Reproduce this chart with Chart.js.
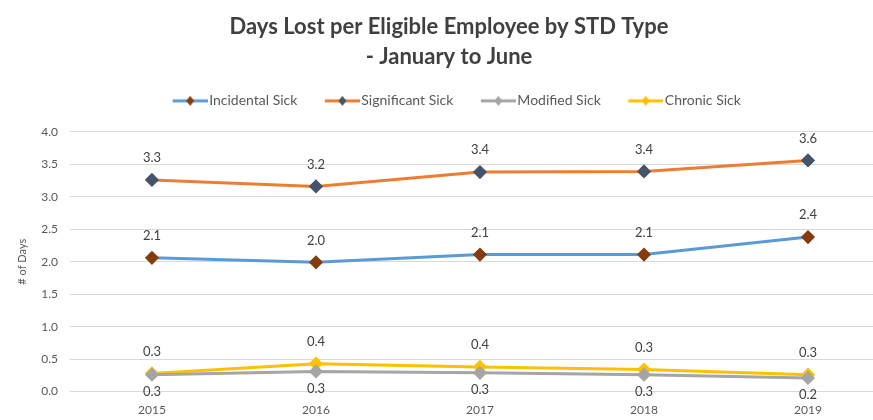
<!DOCTYPE html>
<html>
<head>
<meta charset="utf-8">
<script src="https://cdn.jsdelivr.net/npm/chart.js@4.4.1/dist/chart.umd.min.js"></script>
<style>
    html, body { margin: 0; padding: 0; background: #fff; overflow: hidden; width: 873px; height: 420px; }
    #frame { width: 873px; height: 420px; overflow: hidden; position: relative; }
    canvas { display: block; position: absolute; left: 0; top: 0; }
</style>
</head>
<body>
<!-- canvas is a bit larger than the window, the original is cropped on the right -->
<div id="frame"><canvas id="stdChart" width="898" height="431"></canvas></div>
<script>
const years = ['2015', '2016', '2017', '2018', '2019'];
const incidentalSick = [2.06, 1.99, 2.11, 2.11, 2.38];
const significantSick = [3.26, 3.16, 3.38, 3.39, 3.56];
const modifiedSick = [0.26, 0.31, 0.29, 0.26, 0.21];
const chronicSick = [0.28, 0.43, 0.38, 0.34, 0.26];
const yTicks = [0, 0.5, 1, 1.5, 2, 2.5, 3, 3.5, 4];

const textGray = '#595959';

// legend swatch: line with a diamond, transparent space on the left
function legendIcon(lineColor, markColor) {
    const c = document.createElement('canvas');
    c.width = 56;
    c.height = 12;
    const ctx = c.getContext('2d');
    ctx.strokeStyle = lineColor;
    ctx.lineWidth = 3;
    ctx.beginPath();
    ctx.moveTo(21, 6);
    ctx.lineTo(56, 6);
    ctx.stroke();
    ctx.fillStyle = markColor;
    ctx.beginPath();
    ctx.moveTo(38.5, 1);
    ctx.lineTo(42.5, 6);
    ctx.lineTo(38.5, 11);
    ctx.lineTo(34.5, 6);
    ctx.closePath();
    ctx.fill();
    return c;
}

function makeSeries(label, data, lineColor, markColor, below) {
    return {
        label: label,
        data: data,
        borderColor: lineColor,
        backgroundColor: markColor,
        pointBackgroundColor: markColor,
        pointBorderColor: markColor,
        pointStyle: 'rectRot',
        pointRadius: 5,
        pointHoverRadius: 5,
        borderWidth: 3,
        tension: 0,
        labelBelow: below,
        icon: legendIcon(lineColor, markColor)
    };
}

// extra gap under the legend
const legendGap = {
    id: 'legendGap',
    afterInit(chart) {
        const legend = chart.legend;
        const fit = legend.fit;
        legend.fit = function () {
            fit.call(this);
            this.height += 14;
        };
    }
};

const valueLabels = {
    id: 'valueLabels',
    afterDatasetsDraw(chart) {
        const ctx = chart.ctx;
        ctx.save();
        ctx.font = '13px Lato';
        ctx.fillStyle = '#404040';
        ctx.textAlign = 'center';
        ctx.textBaseline = 'middle';
        chart.data.datasets.forEach((ds, i) => {
            chart.getDatasetMeta(i).data.forEach((pt, j) => {
                const y = ds.labelBelow ? pt.y + 17 : pt.y - 22;
                ctx.fillText(ds.data[j].toFixed(1), pt.x, y);
            });
        });
        ctx.restore();
    }
};

new Chart(document.getElementById('stdChart'), {
    type: 'line',
    data: {
        labels: years,
        datasets: [
            makeSeries('Incidental Sick', incidentalSick, '#5B9BD5', '#843C0C', false),
            makeSeries('Significant Sick', significantSick, '#ED7D31', '#44546A', false),
            makeSeries('Modified Sick', modifiedSick, '#A5A5A5', '#A5A5A5', true),
            makeSeries('Chronic Sick', chronicSick, '#FFC000', '#FFC000', false)
        ]
    },
    options: {
        responsive: false,
        animation: false,
        devicePixelRatio: 1,
        layout: { padding: { top: 12, left: 0, right: 0, bottom: 3 } },
        plugins: {
            tooltip: { enabled: false },
            title: {
                display: true,
                text: ['Days Lost per Eligible Employee by STD Type', '- January to June'],
                color: '#404040',
                font: { family: 'Lato', size: 22, weight: 'bold', lineHeight: 1.36 },
                padding: { top: 0, bottom: 10 }
            },
            legend: {
                position: 'top',
                labels: {
                    usePointStyle: true,
                    pointStyleWidth: 45,
                    color: textGray,
                    font: { family: 'Lato', size: 14 },
                    padding: 12,
                    generateLabels(chart) {
                        const items = Chart.defaults.plugins.legend.labels.generateLabels(chart);
                        items.forEach(item => {
                            item.pointStyle = chart.data.datasets[item.datasetIndex].icon;
                        });
                        return items;
                    }
                }
            }
        },
        scales: {
            x: {
                offset: true,
                grid: { display: false, drawTicks: false },
                border: { display: false },
                ticks: { color: textGray, font: { family: 'Lato', size: 12 }, padding: 11 },
                afterFit(scale) {
                    scale.paddingLeft = 0;
                    scale.paddingRight = 0;
                }
            },
            y: {
                min: 0,
                max: 4,
                afterBuildTicks(axis) {
                    axis.ticks = yTicks.map(v => ({ value: v }));
                },
                afterFit(scale) {
                    scale.paddingTop = 0;
                    scale.paddingBottom = 0;
                },
                grid: { color: '#D9D9D9', drawTicks: false },
                border: { display: false },
                ticks: {
                    color: textGray,
                    font: { family: 'Lato', size: 12 },
                    padding: 12,
                    callback: v => v.toFixed(1)
                },
                title: {
                    display: true,
                    text: '# of Days',
                    color: textGray,
                    font: { family: 'Lato', size: 11 },
                    padding: { top: 16, bottom: 0 }
                }
            }
        }
    },
    plugins: [legendGap, valueLabels]
});
</script>
</body>
</html>
